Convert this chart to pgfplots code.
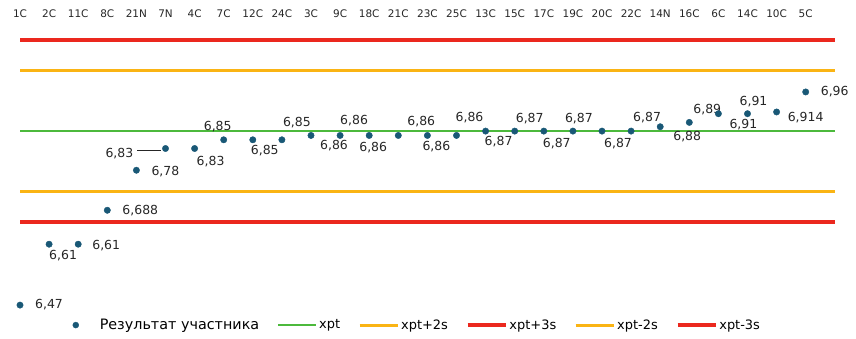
\documentclass[border=0pt]{standalone}
\usepackage{pgfplots}
\pgfplotsset{compat=1.18}
\usepackage{pgfplotstable}
\usepackage{fontspec}
\setmainfont{DejaVu Sans}
\definecolor{markc}{RGB}{25,88,118}
\definecolor{greenc}{RGB}{76,185,60}
\definecolor{orangec}{RGB}{250,180,20}
\definecolor{redc}{RGB}{235,40,30}
\pgfplotsset{
  linelegend/.style={legend image code/.code={\draw[##1] (0bp,0bp) -- (38bp,0bp);}},
  marklegend/.style={legend image code/.code={\path[draw=none,fill=none] (-4bp,0bp) -- (22bp,0bp); \fill[markc] (0bp,0bp) circle (3bp);}},
}
\pgfplotstableread{
x y lab dx dy
0 6.47 6,47 29 0
1 6.61 6,61 14 -11
2 6.61 6,61 28 -1
3 6.688 6,688 33 0
4 6.78 6,78 29 -1
6 6.83 6,83 16 -13
7 6.85 6,85 -6 13
8 6.85 6,85 12 -11
9 6.85 6,85 15 17
10 6.86 6,86 23 -10
11 6.86 6,86 14 15
12 6.86 6,86 4 -12
13 6.86 6,86 23 14
14 6.86 6,86 9 -11
15 6.86 6,86 13 18
16 6.87 6,87 13 -11
17 6.87 6,87 15 12
18 6.87 6,87 13 -13
19 6.87 6,87 6 12
20 6.87 6,87 16 -13
21 6.87 6,87 16 13
22 6.88 6,88 27 -10
23 6.89 6,89 18 13
24 6.91 6,91 25 -11
25 6.91 6,91 6 12
26 6.914 6,914 29 -6
27 6.96 6,96 29 0
}\labeled
\begin{document}
\begin{tikzpicture}
\begin{axis}[
  x=29.1bp, y=435bp,
  xmin=-0.6873, xmax=28.7285, ymin=6.39414, ymax=7.17115,
  axis line style={draw=none},
  ytick=\empty,
  xtick={0,...,27},
  xticklabels={1C,2C,11C,8C,21N,7N,4C,7C,12C,24C,3C,9C,18C,21C,23C,25C,13C,15C,17C,19C,20C,22C,14N,16C,6C,14C,10C,5C},
  xticklabel pos=right,
  major tick length=0pt,
  xticklabel style={anchor=center, yshift=-14bp, font=\fontsize{10.5}{12}\selectfont, text=black!85},
  clip=false,
  legend columns=6,
  legend style={draw=none, fill=none, at={(0.487,0.0385)}, anchor=center,
    font=\fontsize{13}{15}\selectfont, inner sep=0pt,
    /tikz/every even column/.append style={column sep=16bp}},
]
\addlegendimage{marklegend}
\addlegendentry{\fontsize{14.4}{15}\selectfont Результат участника}
\addlegendimage{linelegend, greenc, line width=2bp}
\addlegendentry{xpt}
\addlegendimage{linelegend, orangec, line width=3bp}
\addlegendentry{xpt+2s}
\addlegendimage{linelegend, redc, line width=3.5bp}
\addlegendentry{xpt+3s}
\addlegendimage{linelegend, orangec, line width=3bp}
\addlegendentry{xpt-2s}
\addlegendimage{linelegend, redc, line width=3.5bp}
\addlegendentry{xpt-3s}

\addplot[forget plot, greenc, line width=2bp] coordinates {(0,6.87) (28,6.87)};
\addplot[forget plot, orangec, line width=3bp] coordinates {(0,7.009) (28,7.009)};
\addplot[forget plot, redc, line width=3.5bp] coordinates {(0,7.079) (28,7.079)};
\addplot[forget plot, orangec, line width=3bp] coordinates {(0,6.731) (28,6.731)};
\addplot[forget plot, redc, line width=3.5bp] coordinates {(0,6.661) (28,6.661)};

\addplot[forget plot, only marks, mark=*, mark size=3.2bp, draw=markc, fill=markc,
  nodes near coords, point meta=explicit symbolic,
  visualization depends on={\thisrow{dx} \as \dx},
  visualization depends on={\thisrow{dy} \as \dy},
  every node near coord/.append style={anchor=center, xshift=\dx bp, yshift=\dy bp,
     font=\fontsize{12.5}{14}\selectfont, text=black!85, inner sep=0pt}]
  table[x=x, y=y, meta=lab] {\labeled};

\addplot[forget plot, only marks, mark=*, mark size=3.2bp, draw=markc, fill=markc,
  nodes near coords={6,83\hspace{4bp}\rule[6bp]{24bp}{0.8bp}},
  every node near coord/.append style={anchor=base east, xshift=-4bp, yshift=-8.5bp,
     font=\fontsize{12.5}{14}\selectfont, text=black!85, inner sep=0pt}]
  coordinates {(5,6.83)};
\end{axis}
\end{tikzpicture}
\end{document}
